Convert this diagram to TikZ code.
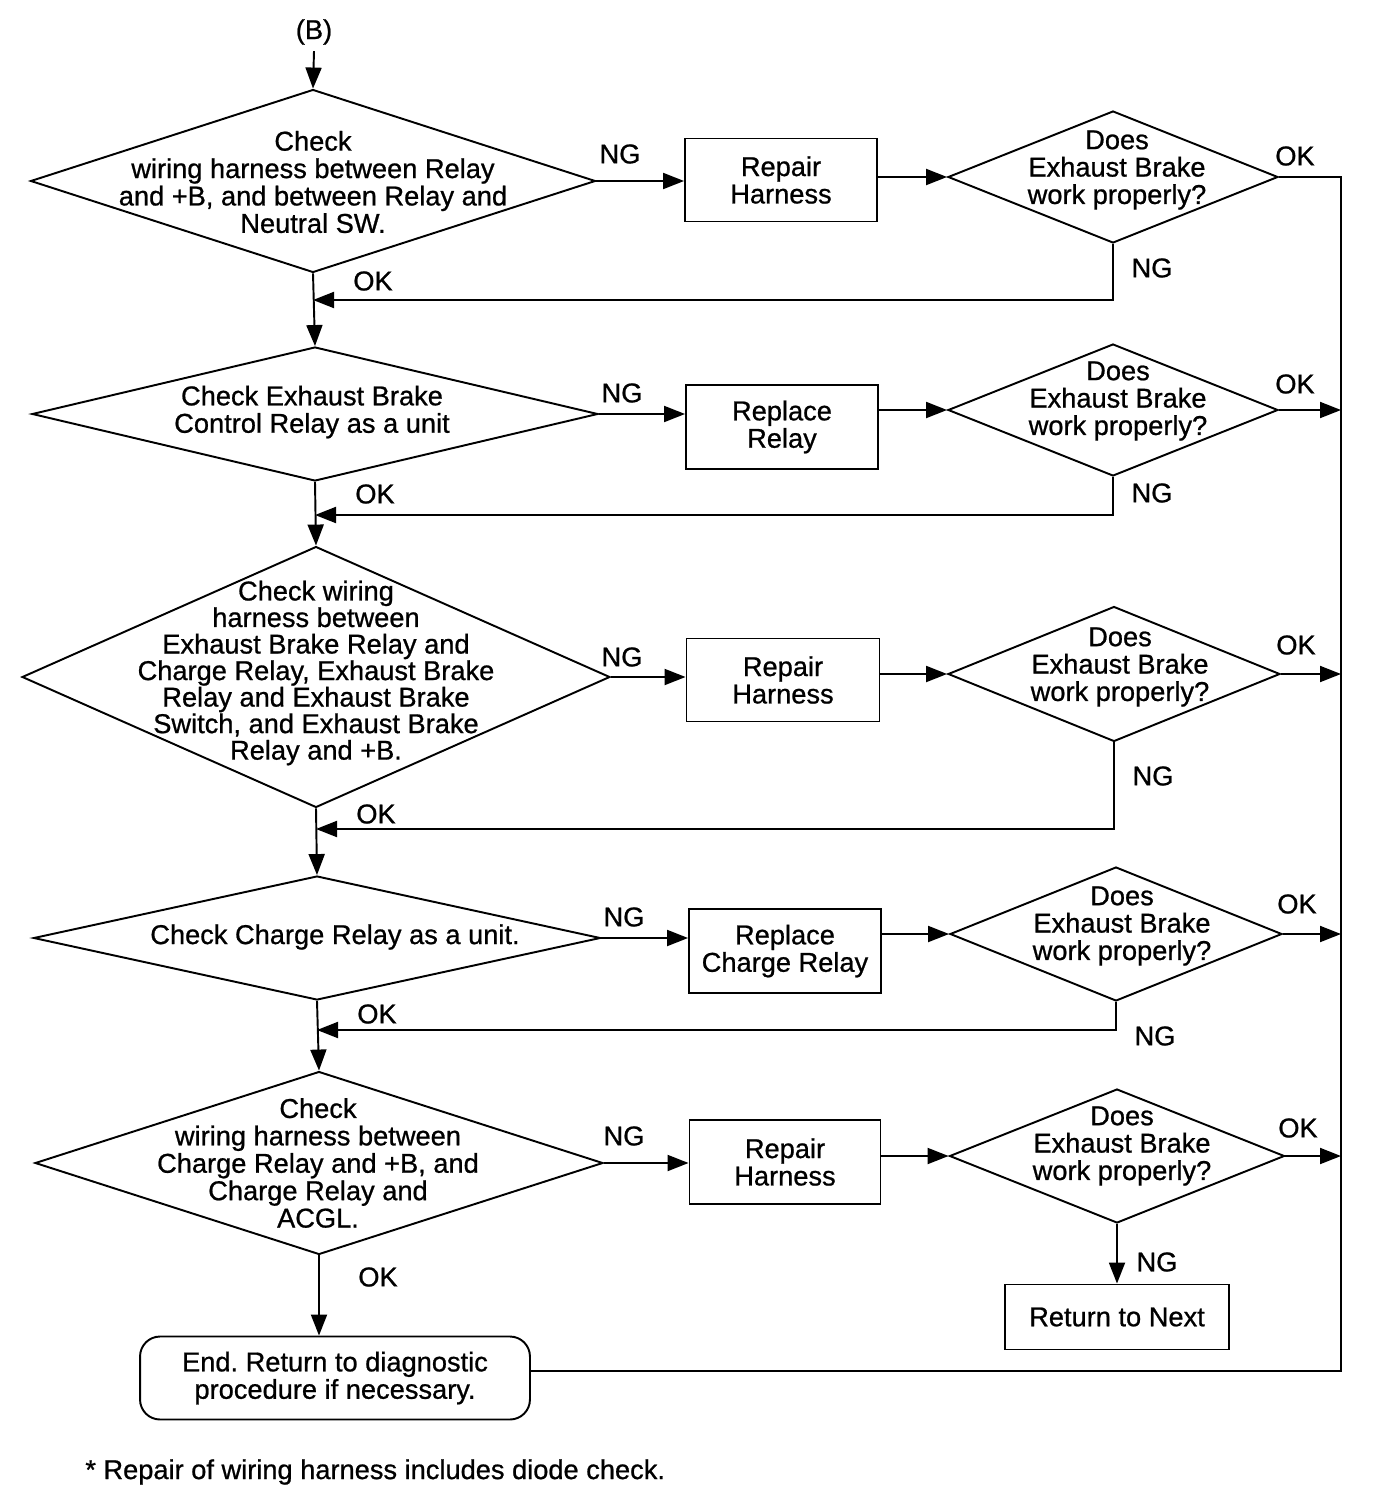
\documentclass[tikz,border=0pt]{standalone}
\usepackage{fontspec}
\setmainfont{Liberation Sans}[FakeBold=0.8]
\usetikzlibrary{shapes.geometric,arrows.meta}
\begin{document}
\begin{tikzpicture}[x=0.02cm,y=-0.02cm,
  every node/.style={font=\fontsize{15.5}{15.6}\selectfont},
  line/.style={line width=1.1pt},
  arr/.style={line width=1.1pt,-{Triangle[length=0.42cm,width=0.32cm]}},
  dia/.style={diamond,draw,line width=1.1pt,inner sep=0pt},
  box/.style={rectangle,draw,line width=1.1pt,inner sep=0pt,align=center},
  txt/.style={align=center,inner sep=0pt},
  lbl/.style={inner sep=0pt}]
\useasboundingbox (0,0) rectangle (1376,1504);

% start
\node[lbl] (B) at (314,32) {(B)};

% main decision diamonds
\node[dia,minimum width=11.3cm,minimum height=3.66cm] (d1) at (313,181) {};
\node[dia,minimum width=11.32cm,minimum height=2.68cm] (d2) at (315,414) {};
\node[dia,minimum width=11.76cm,minimum height=5.22cm] (d3) at (316,677) {};
\node[dia,minimum width=11.34cm,minimum height=2.48cm] (d4) at (317,938) {};
\node[dia,minimum width=11.36cm,minimum height=3.66cm] (d5) at (319,1163) {};

\node[txt] (t1) at (313,182) {Check\\wiring harness between Relay\\and +B, and between Relay and\\Neutral SW.};
\node[txt] (t2) at (312,412) {Check Exhaust Brake\\Control Relay as a unit};
\node[txt,font=\fontsize{15.5}{15.1}\selectfont] (t3) at (316,673) {Check wiring\\harness between\\Exhaust Brake Relay and\\Charge Relay, Exhaust Brake\\Relay and Exhaust Brake\\Switch, and Exhaust Brake\\Relay and +B.};
\node[txt] (t4) at (335,937) {Check Charge Relay as a unit.};
\node[txt] (t5) at (318,1163) {Check\\wiring harness between\\Charge Relay and +B, and\\Charge Relay and\\ACGL.};

% action boxes
\node[box,minimum width=3.84cm,minimum height=1.66cm] (b1) at (781,180) {Repair\\Harness};
\node[box,minimum width=3.84cm,minimum height=1.68cm] (b2) at (782,427) {Replace\\Relay};
\node[box,minimum width=3.86cm,minimum height=1.66cm] (b3) at (783,680) {Repair\\Harness};
\node[box,minimum width=3.84cm,minimum height=1.68cm] (b4) at (785,951) {Replace\\Charge Relay};
\node[box,minimum width=3.82cm,minimum height=1.68cm] (b5) at (785,1162) {Repair\\Harness};

% check diamonds
\node[dia,minimum width=6.6cm,minimum height=2.64cm] (e1) at (1113,177) {};
\node[dia,minimum width=6.6cm,minimum height=2.64cm] (e2) at (1113,410) {};
\node[dia,minimum width=6.64cm,minimum height=2.7cm] (e3) at (1114,674) {};
\node[dia,minimum width=6.64cm,minimum height=2.68cm] (e4) at (1116,934) {};
\node[dia,minimum width=6.7cm,minimum height=2.68cm] (e5) at (1117,1156) {};

\node[txt] (u1) at (1117,170) {Does\\Exhaust Brake\\work properly?};
\node[txt] (u2) at (1118,401) {Does\\Exhaust Brake\\work properly?};
\node[txt] (u3) at (1120,667) {Does\\Exhaust Brake\\work properly?};
\node[txt] (u4) at (1122,926) {Does\\Exhaust Brake\\work properly?};
\node[txt] (u5) at (1122,1146) {Does\\Exhaust Brake\\work properly?};

% terminal boxes
\node[box,minimum width=4.48cm,minimum height=1.3cm] (ret) at (1117,1317) {Return to Next};
\node[box,rounded corners=0.4cm,minimum width=7.8cm,minimum height=1.66cm] (end) at (335,1378) {End.\ Return to diagnostic\\procedure if necessary.};

% footnote
\node[lbl,anchor=west] (note) at (85,1472) {* Repair of wiring harness includes diode check.};

% labels
\node[lbl] (ng1) at (620,154) {NG};
\node[lbl] (ok1) at (1295,156) {OK};
\node[lbl] (ng1b) at (1152,268) {NG};
\node[lbl] (ok1b) at (373,281) {OK};
\node[lbl] (ng2) at (622,393) {NG};
\node[lbl] (ok2) at (1295,384) {OK};
\node[lbl] (ng2b) at (1152,493) {NG};
\node[lbl] (ok2b) at (375,494) {OK};
\node[lbl] (ng3) at (622,657) {NG};
\node[lbl] (ok3) at (1296,645) {OK};
\node[lbl] (ng3b) at (1153,776) {NG};
\node[lbl] (ok3b) at (376,814) {OK};
\node[lbl] (ng4) at (624,917) {NG};
\node[lbl] (ok4) at (1297,904) {OK};
\node[lbl] (ng4b) at (1155,1036) {NG};
\node[lbl] (ok4b) at (377,1014) {OK};
\node[lbl] (ng5) at (624,1136) {NG};
\node[lbl] (ok5) at (1298,1128) {OK};
\node[lbl] (ng5b) at (1157,1262) {NG};
\node[lbl] (ok5b) at (378,1277) {OK};

% helper coordinates
\coordinate (y1) at (0,300);
\coordinate (y2) at (0,515);
\coordinate (y3) at (0,829);
\coordinate (y4) at (0,1030);
\coordinate (rt) at (1341,177);
\coordinate (rb) at (1341,1371);

% main flow
\draw[arr] ([yshift=-0.12cm]B.south) -- (d1.north);
\draw[arr] (d1.south) -- (d2.north);
\draw[arr] (d2.south) -- (d3.north);
\draw[arr] (d3.south) -- (d4.north);
\draw[arr] (d4.south) -- (d5.north);
\draw[arr] (d5.south) -- (d5.south |- end.north);

% NG branches
\foreach \d/\b/\e in {d1/b1/e1,d2/b2/e2,d3/b3/e3,d4/b4/e4,d5/b5/e5}{
  \draw[arr] (\d.east) -- (\d.east -| \b.west);
  \draw[arr] (\b.east |- \e.west) -- (\e.west);
}

% NG loops back
\draw[arr] (e1.south) |- (d1.south |- y1);
\draw[arr] (e2.south) |- (d2.south |- y2);
\draw[arr] (e3.south) |- (d3.south |- y3);
\draw[arr] (e4.south) |- (d4.south |- y4);
\draw[arr] (e5.south) -- (ret.north);

% OK bus
\draw[line] (e1.east) -- (rt) -- (rb) -- (end.east |- rb);
\draw[arr] (e2.east) -- (e2.east -| rt);
\draw[arr] (e3.east) -- (e3.east -| rt);
\draw[arr] (e4.east) -- (e4.east -| rt);
\draw[arr] (e5.east) -- (e5.east -| rt);
\end{tikzpicture}
\end{document}
